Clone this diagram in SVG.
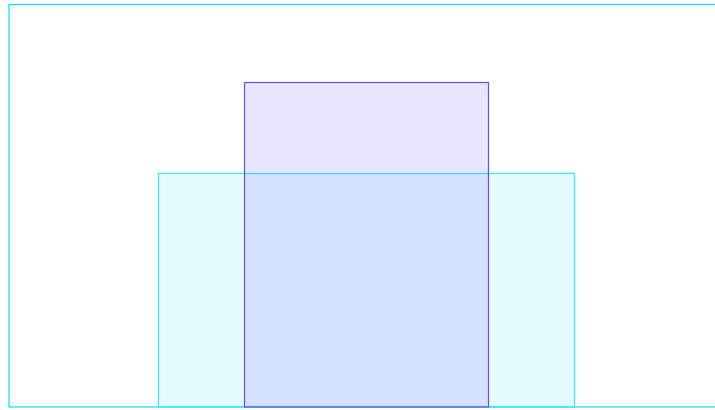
<svg xmlns="http://www.w3.org/2000/svg" width="715" height="410" viewBox="0 0 715 410">
<style>
.frame{fill:none;stroke:#00e5ff;stroke-width:1.2}
.cyan{fill:#00e5ff;fill-opacity:0.1;stroke:#33eaff;stroke-width:1.2}
.purple{fill:#6a4cff;fill-opacity:0.15;stroke:#6a4cff;stroke-width:1.2}
</style>
<rect width="715" height="410" fill="#ffffff"/>
<g id="frame"><rect class="frame" x="9" y="4.5" width="710" height="402.5"/></g>
<g id="cyan-block"><rect class="cyan" x="158.5" y="173.5" width="416" height="233.5"/></g>
<g id="purple-block"><rect class="purple" x="244.5" y="82.5" width="244" height="324.5"/></g>
<g id="connectors"></g>
</svg>
